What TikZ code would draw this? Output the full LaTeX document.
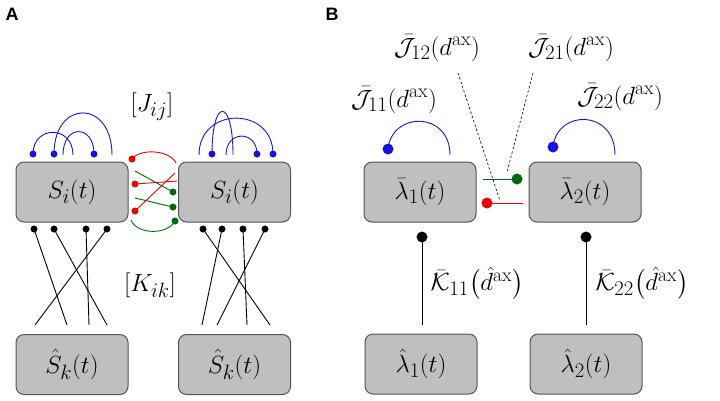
\documentclass[tikz,border=0pt]{standalone}
\usepackage{fontspec}
\setsansfont{Liberation Sans}
\usepackage{amsmath}
\begin{document}
\begin{tikzpicture}[x=1pt,y=-1pt,
  every node/.style={font=\fontsize{28}{32}\selectfont},
  box/.style={draw=boxline,fill=boxfill,line width=1pt,rounded corners=8pt,minimum width=112pt,minimum height=60pt,inner sep=0pt},
  sdot/.style={circle,fill,inner sep=0pt,minimum size=7pt},
  bigdot/.style={circle,fill,inner sep=0pt,minimum size=11pt},
  wire/.style={line width=0.9pt},
  panel/.style={font=\sffamily\bfseries\fontsize{18}{20}\selectfont}]
\definecolor{boxfill}{RGB}{191,191,191}
\definecolor{boxline}{RGB}{85,85,85}
\definecolor{bl}{RGB}{20,20,225}
\definecolor{rd}{RGB}{240,0,0}
\definecolor{gn}{RGB}{0,105,10}
\useasboundingbox (0,0) rectangle (720,400);

% ---------------- Panel A ----------------
\node[panel] (pA) at (12,14) {A};
\node[box] (SL) at (72,192) {$S_i(t)$};
\node[box] (SR) at (234.5,192) {$S_i(t)$};
\node[box] (HL) at (72,364.5) {$\hat S_k(t)$};
\node[box] (HR) at (234.5,364.5) {$\hat S_k(t)$};
\node (Jij) at (152,107) {$[J_{ij}]$};
\node (Kik) at (150,285) {$[K_{ik}]$};

% blue recurrent arcs, left
\node[sdot,bl] (bl1) at (33,154) {};
\node[sdot,bl] (bl2) at (54,154) {};
\node[sdot,bl] (bl3) at (94,154) {};
\coordinate (fl1) at (73,155);
\coordinate (fl2) at (112,155);
\coordinate (fl3) at (63,155);
\draw[wire,bl] (bl1.center) .. controls (33,125) and (73,125) .. (fl1);
\draw[wire,bl] (bl2.center) .. controls (54,99) and (112,99) .. (fl2);
\draw[wire,bl] (fl3) .. controls (63,124) and (94,124) .. (bl3.center);
% blue recurrent arcs, right
\node[sdot,bl] (br1) at (212,154) {};
\node[sdot,bl] (br2) at (257,154) {};
\node[sdot,bl] (br3) at (273,154) {};
\coordinate (fr1) at (199,155);
\coordinate (fr2) at (233,155);
\coordinate (fr3) at (226,155);
\draw[wire,bl] (fr1) .. controls (199,106) and (273,106) .. (br3.center);
\draw[wire,bl] (br1.center) .. controls (212,97) and (233,97) .. (fr2);
\draw[wire,bl] (fr3) .. controls (226,130) and (257,130) .. (br2.center);

% red / green cross connections
\node[sdot,rd] (r1) at (132,159) {};
\node[sdot,rd] (r2) at (135,184) {};
\node[sdot,rd] (r3) at (135,211) {};
\coordinate (re1) at (176,163);
\coordinate (re2) at (177,181);
\coordinate (re3) at (175,173);
\draw[wire,rd] (r1.center) .. controls (140,148) and (170,150) .. (re1);
\draw[wire,rd] (r2.center) -- (re2);
\draw[wire,rd] (r3.center) -- (re3);
\node[sdot,gn] (g1) at (173,192) {};
\node[sdot,gn] (g2) at (173,207) {};
\node[sdot,gn] (g3) at (175,221) {};
\coordinate (ge1) at (135,171);
\coordinate (ge2) at (135,198);
\coordinate (ge3) at (131,220);
\draw[wire,gn] (ge1) -- (g1.center);
\draw[wire,gn] (ge2) -- (g2.center);
\draw[wire,gn] (ge3) .. controls (137,235) and (168,235) .. (g3.center);

% black feed-forward lines, left
\node[sdot] (kl1) at (34,229) {};
\node[sdot] (kl2) at (54,229) {};
\node[sdot] (kl3) at (86,229) {};
\node[sdot] (kl4) at (107,229) {};
\coordinate (el1) at (67,325);
\coordinate (el2) at (107,325);
\coordinate (el3) at (89,325);
\coordinate (el4) at (35,325);
\draw[wire] (kl1.center) -- (el1);
\draw[wire] (kl2.center) -- (el2);
\draw[wire] (kl3.center) -- (el3);
\draw[wire] (kl4.center) -- (el4);
% black feed-forward lines, right
\node[sdot] (kr1) at (203,229) {};
\node[sdot] (kr2) at (222,229) {};
\node[sdot] (kr3) at (243,229) {};
\node[sdot] (kr4) at (265,229) {};
\coordinate (er1) at (270,325);
\coordinate (er2) at (202,325);
\coordinate (er3) at (247,325);
\coordinate (er4) at (217,325);
\draw[wire] (kr1.center) -- (er1);
\draw[wire] (kr2.center) -- (er2);
\draw[wire] (kr3.center) -- (er3);
\draw[wire] (kr4.center) -- (er4);

% ---------------- Panel B ----------------
\node[panel] (pB) at (332,14) {B};
\node[box] (L1) at (420,192) {$\bar\lambda_1(t)$};
\node[box] (L2) at (585,192) {$\bar\lambda_2(t)$};
\node[box] (H1) at (421,364) {$\hat\lambda_1(t)$};
\node[box] (H2) at (586,364) {$\hat\lambda_2(t)$};

\node (J11) at (394,100) {$\bar{\mathcal{J}}_{11}(d^{\mathrm{ax}})$};
\node (J22) at (620,97) {$\bar{\mathcal{J}}_{22}(d^{\mathrm{ax}})$};
\node (J12) at (437,48) {$\bar{\mathcal{J}}_{12}(d^{\mathrm{ax}})$};
\node (J21) at (571,48) {$\bar{\mathcal{J}}_{21}(d^{\mathrm{ax}})$};
\node[anchor=west] (K11) at (427,283) {$\bar{\mathcal{K}}_{11}\bigl(\hat d^{\mathrm{ax}}\bigr)$};
\node[anchor=west] (K22) at (592,283) {$\bar{\mathcal{K}}_{22}\bigl(\hat d^{\mathrm{ax}}\bigr)$};

% self arcs
\node[bigdot,bl] (b1) at (388,149) {};
\node[bigdot,bl] (b2) at (553,147) {};
\coordinate (bf1) at (450,155);
\coordinate (bf2) at (615,155);
\draw[wire,bl] (b1.center) .. controls (392,111) and (450,111) .. (bf1);
\draw[wire,bl] (b2.center) .. controls (557,109) and (615,109) .. (bf2);

% cross connections
\node[bigdot,gn] (gB) at (517,179) {};
\coordinate (gBe) at (483,179);
\draw[wire,gn] (gBe) -- (gB.center);
\node[bigdot,rd] (rB) at (487,203) {};
\coordinate (rBe) at (523,203);
\draw[wire,rd] (rB.center) -- (rBe);

% dashed label leaders
\coordinate (d12a) at (458,73);
\coordinate (d12b) at (500,201);
\coordinate (d21a) at (533,73);
\coordinate (d21b) at (507,172);
\draw[line width=0.6pt,dash pattern=on 2.5pt off 2pt] (d12a) -- (d12b);
\draw[line width=0.6pt,dash pattern=on 2.5pt off 2pt] (d21a) -- (d21b);

% feed-forward pins
\node[bigdot] (k1) at (422,237) {};
\node[bigdot] (k2) at (586,237) {};
\coordinate (k1e) at (422,325);
\coordinate (k2e) at (586,325);
\draw[wire] (k1.center) -- (k1e);
\draw[wire] (k2.center) -- (k2e);
\end{tikzpicture}
\end{document}
